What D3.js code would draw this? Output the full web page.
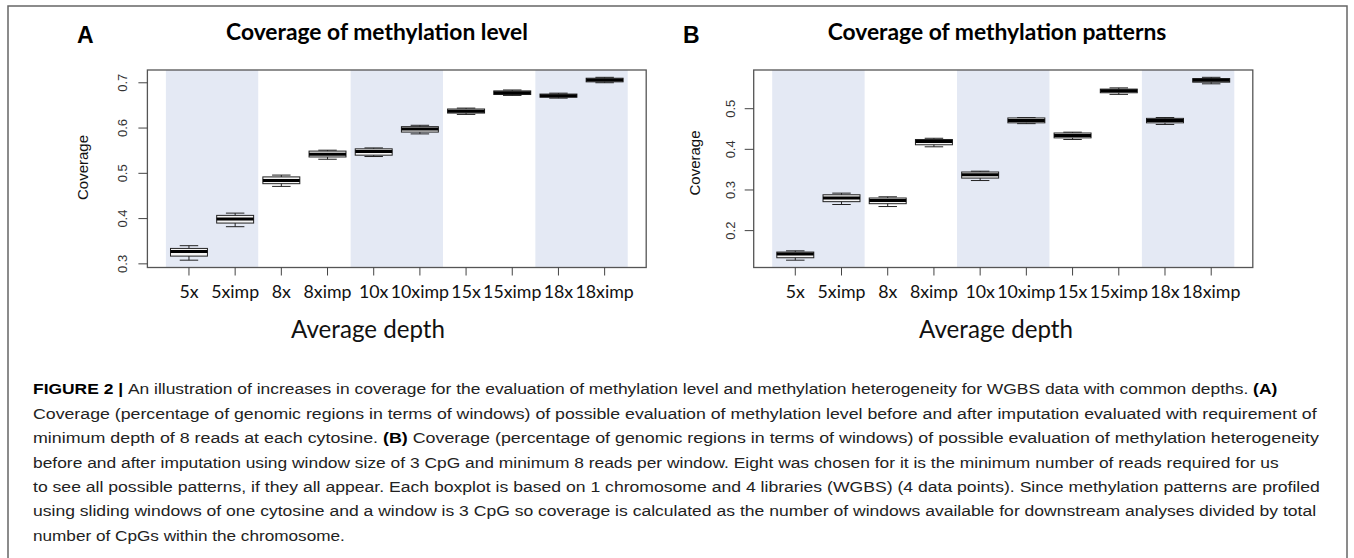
<!DOCTYPE html>
<html><head><meta charset="utf-8">
<script src="https://cdn.jsdelivr.net/npm/d3@7"></script>
<style>body{margin:0;background:#fff}</style>
</head><body>
<svg id="fig" width="1354" height="558"></svg>
<script>
// categories + five-number summaries
const categories=["5x","5ximp","8x","8ximp","10x","10ximp","15x","15ximp","18x","18ximp"];
const shadedPairs=[["5x","5ximp"],["10x","10ximp"],["18x","18ximp"]];

const levelMin=[0.307,0.381,0.470,0.530,0.536,0.586,0.629,0.671,0.665,0.699];
const levelQ1 =[0.316,0.389,0.476,0.535,0.539,0.590,0.632,0.673,0.667,0.701];
const levelMed=[0.326,0.398,0.483,0.541,0.547,0.597,0.636,0.677,0.670,0.705];
const levelQ3 =[0.333,0.406,0.491,0.548,0.553,0.602,0.641,0.681,0.674,0.709];
const levelMax=[0.339,0.411,0.495,0.550,0.555,0.605,0.643,0.683,0.676,0.711];
const levelTicks=[0.3,0.4,0.5,0.6,0.7];

const patternMin=[0.126,0.263,0.258,0.405,0.322,0.462,0.423,0.534,0.460,0.560];
const patternQ1 =[0.132,0.270,0.265,0.410,0.328,0.464,0.427,0.538,0.464,0.564];
const patternMed=[0.141,0.279,0.273,0.418,0.336,0.470,0.433,0.543,0.470,0.569];
const patternQ3 =[0.146,0.287,0.279,0.423,0.343,0.476,0.439,0.547,0.475,0.573];
const patternMax=[0.149,0.291,0.282,0.426,0.345,0.477,0.441,0.550,0.477,0.576];
const patternTicks=[0.2,0.3,0.4,0.5];

const captionLines=[
  [["FIGURE 2 | ",1],["An illustration of increases in coverage for the evaluation of methylation level and methylation heterogeneity for WGBS data with common depths. ",0],["(A)",1]],
  [["Coverage (percentage of genomic regions in terms of windows) of possible evaluation of methylation level before and after imputation evaluated with requirement of",0]],
  [["minimum depth of 8 reads at each cytosine. ",0],["(B)",1],[" Coverage (percentage of genomic regions in terms of windows) of possible evaluation of methylation heterogeneity",0]],
  [["before and after imputation using window size of 3 CpG and minimum 8 reads per window. Eight was chosen for it is the minimum number of reads required for us",0]],
  [["to see all possible patterns, if they all appear. Each boxplot is based on 1 chromosome and 4 libraries (WGBS) (4 data points). Since methylation patterns are profiled",0]],
  [["using sliding windows of one cytosine and a window is 3 CpG so coverage is calculated as the number of windows available for downstream analyses divided by total",0]],
  [["number of CpGs within the chromosome.",0]]
];
const captionEnds=[1278,1318,1320,1279,1320,1317,345];

const svg=d3.select("#fig");
const titleFont="Lato, 'Open Sans', sans-serif";
const axisFont="'Liberation Sans', Arial, sans-serif";

// outer frame (runs off the bottom like the source)
svg.append("rect").attr("x",8).attr("y",6).attr("width",1339).attr("height",570)
  .attr("fill","none").attr("stroke","#666").attr("stroke-width",1.5);

function fitSize(sel,width){
  const n=sel.node().getComputedTextLength();
  const fs=parseFloat(sel.attr("font-size"));
  sel.attr("font-size",fs*width/n);
}

const panels=[
  {letter:"A",letterX:77,title:"Coverage of methylation level",titleX:377,titleW:302,
   lo:levelMin,q1:levelQ1,med:levelMed,q3:levelQ3,hi:levelMax,ticks:levelTicks,
   left:147.4,right:646.2,tickLabX:127,yLabX:88,yLabY:167.5,xLabX:368},
  {letter:"B",letterX:683,title:"Coverage of methylation patterns",titleX:997,titleW:339,
   lo:patternMin,q1:patternQ1,med:patternMed,q3:patternQ3,hi:patternMax,ticks:patternTicks,
   left:753.7,right:1252.8,tickLabX:735,yLabX:700,yLabY:163,xLabX:996}
];
const plotTop=70, plotBottom=267.5;

// common size for category labels
const probe=svg.append("text").attr("font-family",titleFont).attr("font-size",16).text("5ximp");
fitSize(probe,48);
const catSize=+probe.attr("font-size");
probe.remove();

panels.forEach(p=>{
  const g=svg.append("g");
  const x=d3.scaleBand().domain(categories).range([p.left,p.right]).paddingInner(0).paddingOuter(0.4);
  const all=p.lo.concat(p.hi);
  const ext=d3.extent(all), r=ext[1]-ext[0];
  const y=d3.scaleLinear().domain([ext[0]-0.04*r,ext[1]+0.04*r]).range([plotBottom,plotTop]);

  // shaded groups
  g.selectAll("rect.band").data(shadedPairs).enter().append("rect")
    .attr("x",d=>x(d[0])).attr("width",d=>x(d[1])+x.step()-x(d[0]))
    .attr("y",plotTop).attr("height",plotBottom-plotTop).attr("fill","#e4e9f4");

  const bw=x.step()*0.8;
  const boxes=g.selectAll("g.box").data(categories).enter().append("g")
    .attr("transform",d=>`translate(${x(d)+x.step()/2},0)`);
  boxes.append("line").attr("x1",0).attr("x2",0)
    .attr("y1",(d,i)=>y(p.hi[i])).attr("y2",(d,i)=>y(p.lo[i]))
    .attr("stroke","#222").attr("stroke-width",1);
  boxes.append("line").attr("x1",-bw/4).attr("x2",bw/4)
    .attr("y1",(d,i)=>y(p.hi[i])).attr("y2",(d,i)=>y(p.hi[i]))
    .attr("stroke","#222").attr("stroke-width",1);
  boxes.append("line").attr("x1",-bw/4).attr("x2",bw/4)
    .attr("y1",(d,i)=>y(p.lo[i])).attr("y2",(d,i)=>y(p.lo[i]))
    .attr("stroke","#222").attr("stroke-width",1);
  boxes.append("rect").attr("x",-bw/2).attr("width",bw)
    .attr("y",(d,i)=>y(p.q3[i])).attr("height",(d,i)=>y(p.q1[i])-y(p.q3[i]))
    .attr("fill","#f4f4f4").attr("stroke","#222").attr("stroke-width",1);
  boxes.append("line").attr("x1",-bw/2).attr("x2",bw/2)
    .attr("y1",(d,i)=>y(p.med[i])).attr("y2",(d,i)=>y(p.med[i]))
    .attr("stroke","#000").attr("stroke-width",3);

  // frame
  g.append("rect").attr("x",p.left).attr("y",plotTop).attr("width",p.right-p.left).attr("height",plotBottom-plotTop)
    .attr("fill","none").attr("stroke","#555").attr("stroke-width",1.3);

  // y axis
  const ya=g.append("g").attr("transform",`translate(${p.left},0)`)
    .call(d3.axisLeft(y).tickValues(p.ticks).tickSize(9).tickFormat(d3.format(".1f")));
  ya.select(".domain").remove();
  ya.selectAll(".tick line").attr("stroke","#444");
  ya.selectAll(".tick text").attr("font-family",axisFont).attr("font-size",13).attr("fill","#333")
    .attr("x",null).attr("dy",null).attr("text-anchor","middle")
    .attr("transform",`translate(${p.tickLabX-p.left},0) rotate(-90)`);

  // x axis
  const xa=g.append("g").attr("transform",`translate(0,${plotBottom})`)
    .call(d3.axisBottom(x).tickSize(8).tickPadding(0));
  xa.select(".domain").remove();
  xa.selectAll(".tick line").attr("stroke","#444");
  xa.selectAll(".tick text").attr("font-family",titleFont).attr("font-size",catSize).attr("fill","#111")
    .attr("dy",null).attr("y",30.5);

  // labels
  svg.append("text").attr("x",p.letterX).attr("y",43).attr("font-family",axisFont)
    .attr("font-weight","bold").attr("font-size",23).text(p.letter);
  const t=svg.append("text").attr("x",p.titleX).attr("y",39.5).attr("text-anchor","middle")
    .attr("font-family",titleFont).attr("font-weight","bold").attr("font-size",20).text(p.title);
  fitSize(t,p.titleW);
  svg.append("text").attr("transform",`translate(${p.yLabX},${p.yLabY}) rotate(-90)`)
    .attr("text-anchor","middle").attr("font-family",axisFont).attr("font-size",15).attr("fill","#111")
    .text("Coverage");
  const xl=svg.append("text").attr("x",p.xLabX).attr("y",338).attr("text-anchor","middle")
    .attr("font-family",titleFont).attr("font-size",21).attr("fill","#111").text("Average depth");
  fitSize(xl,154);
});

// caption, squeezed to the narrow width of the source typeface
captionLines.forEach((segs,i)=>{
  const t=svg.append("text").attr("font-family","'Liberation Sans Narrow','Liberation Sans',Arial,sans-serif")
    .attr("font-size",15.5).attr("fill","#222");
  segs.forEach(s=>{
    t.append("tspan").attr("font-weight",s[1]?"bold":"normal").attr("fill",s[1]?"#000":"#222").text(s[0]);
  });
  const n=t.node().getComputedTextLength();
  t.attr("transform",`translate(33,${394.3+i*24.4}) scale(${(captionEnds[i]-33)/n},1)`);
});
</script>
</body></html>
